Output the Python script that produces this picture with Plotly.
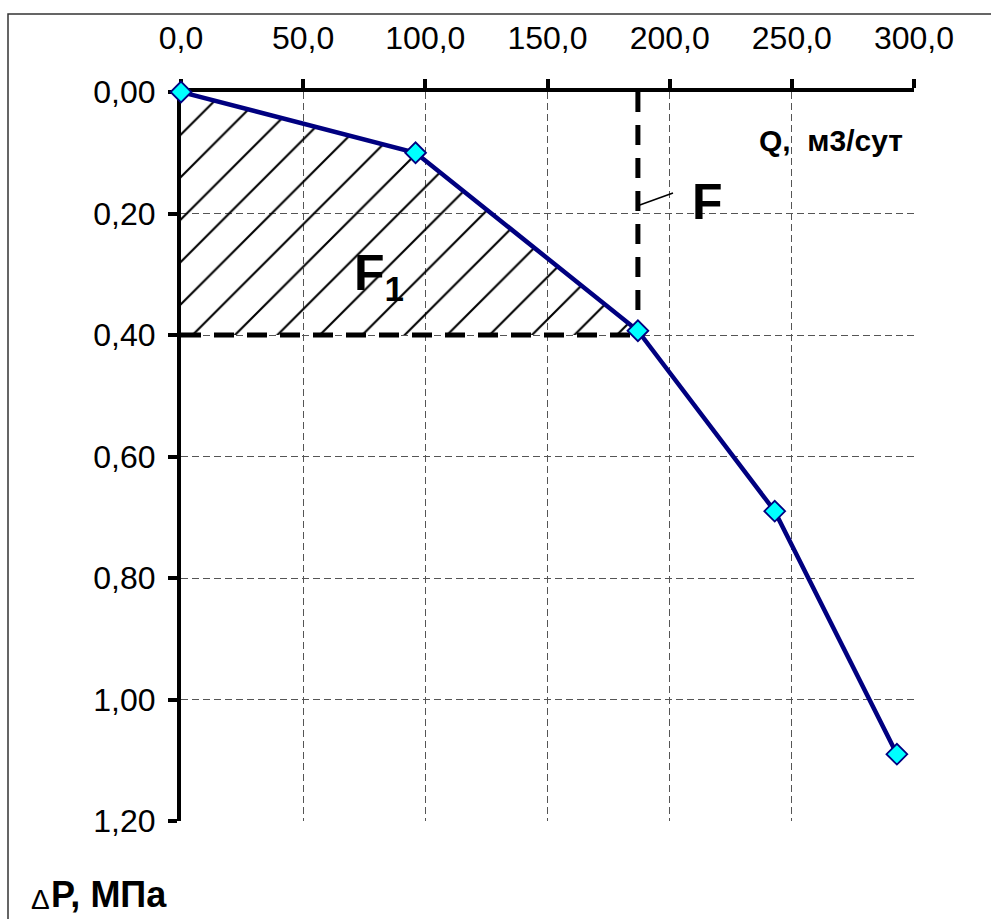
import plotly.graph_objects as go

# Flow rate Q (m3/day) vs pressure drop dP (MPa)
q_values = [0, 96, 187, 243, 293]
dp_values = [0.00, 0.10, 0.393, 0.69, 1.09]

# Reference level bounding the hatched area F1
dp_level = 0.40
q_level = q_values[2]

x_ticks = [0, 50, 100, 150, 200, 250, 300]
y_ticks = [0.0, 0.2, 0.4, 0.6, 0.8, 1.0, 1.2]

W, H = 991, 919
ML, MR, MT, MB = 181, 77, 92, 98
PW, PH = W - ML - MR, H - MT - MB


def px(x):
    return (x - ML) / PW


def py(y):
    return (H - MB - y) / PH


FONT = "Liberation Sans, Arial, sans-serif"

fig = go.Figure()

# Hatched region F1 between the curve and the dP level
hatch_x = q_values[:3] + [q_level, 0]
hatch_y = dp_values[:3] + [dp_level, dp_level]
fig.add_trace(go.Scatter(
    x=hatch_x, y=hatch_y, mode="lines", fill="toself",
    line=dict(width=0, color="rgba(0,0,0,0)"),
    fillcolor="rgba(0,0,0,0)",
    fillpattern=dict(shape="/", size=30, solidity=0.07,
                     fgcolor="black", bgcolor="rgba(0,0,0,0)", fillmode="replace"),
    hoverinfo="skip", showlegend=False,
))

# Dashed guide lines
fig.add_trace(go.Scatter(
    x=[q_level, q_level], y=[0, dp_values[2]], mode="lines",
    line=dict(color="black", width=5, dash="20px,13px"),
    hoverinfo="skip", showlegend=False, cliponaxis=False,
))
fig.add_trace(go.Scatter(
    x=[0, q_level], y=[dp_level, dp_level], mode="lines",
    line=dict(color="black", width=5, dash="20px,13px"),
    hoverinfo="skip", showlegend=False, cliponaxis=False,
))

# Characteristic curve
fig.add_trace(go.Scatter(
    x=q_values, y=dp_values, mode="lines+markers",
    line=dict(color="#000080", width=4.5),
    marker=dict(symbol="diamond", size=16, color="#00FFFF",
                line=dict(color="#000080", width=1.8)),
    showlegend=False, cliponaxis=False,
))

grid = dict(showgrid=True, gridcolor="#555555", gridwidth=1, griddash="7px,4px",
            zeroline=False, showline=True, linecolor="black", linewidth=4,
            ticks="outside", ticklen=9, tickwidth=4, tickcolor="black",
            tickfont=dict(family=FONT, size=32, color="black"),
            layer="below traces")

fig.update_xaxes(side="top", range=[0, 300], tickvals=x_ticks, tickformat=".1f",
                 ticklabelstandoff=17, **grid)
fig.update_yaxes(range=[1.2, 0], tickvals=y_ticks, tickformat=".2f",
                 ticklabelstandoff=6, **grid)

annotations = [
    dict(x=px(905), y=py(140), text="<b>Q,\u00a0 м3/сут</b>", xanchor="right", yanchor="middle",
         font=dict(family=FONT, size=30, color="black")),
    dict(x=px(690), y=py(202), text="<b>F</b>", xanchor="left", yanchor="middle",
         font=dict(family=FONT, size=50, color="black")),
    dict(x=px(352), y=py(276), text="<b>F<sub>1</sub></b>", xanchor="left", yanchor="middle",
         font=dict(family=FONT, size=50, color="black")),
    dict(x=px(29), y=py(899), text="Δ", xanchor="left", yanchor="middle",
         font=dict(family=FONT, size=28, color="black")),
    dict(x=px(49), y=py(895), text="<b>P, МПа</b>", xanchor="left", yanchor="middle",
         font=dict(family=FONT, size=36, color="black")),
]
for a in annotations:
    a.update(xref="paper", yref="paper", showarrow=False)

shapes = [
    # leader line for F
    dict(type="line", xref="paper", yref="paper",
         x0=px(637), y0=py(206), x1=px(673), y1=py(193),
         line=dict(color="black", width=1.5)),
    # outer frame
    dict(type="rect", xref="paper", yref="paper",
         x0=px(8), y0=py(14), x1=px(1000), y1=py(930),
         line=dict(color="#333333", width=1.5), fillcolor="rgba(0,0,0,0)", layer="below"),
]

fig.update_layout(
    width=W, height=H,
    margin=dict(l=ML, r=MR, t=MT, b=MB),
    paper_bgcolor="white", plot_bgcolor="white",
    separators=", ",
    font=dict(family=FONT, color="black"),
    annotations=annotations, shapes=shapes,
    showlegend=False,
)

fig.write_html("out.html")
